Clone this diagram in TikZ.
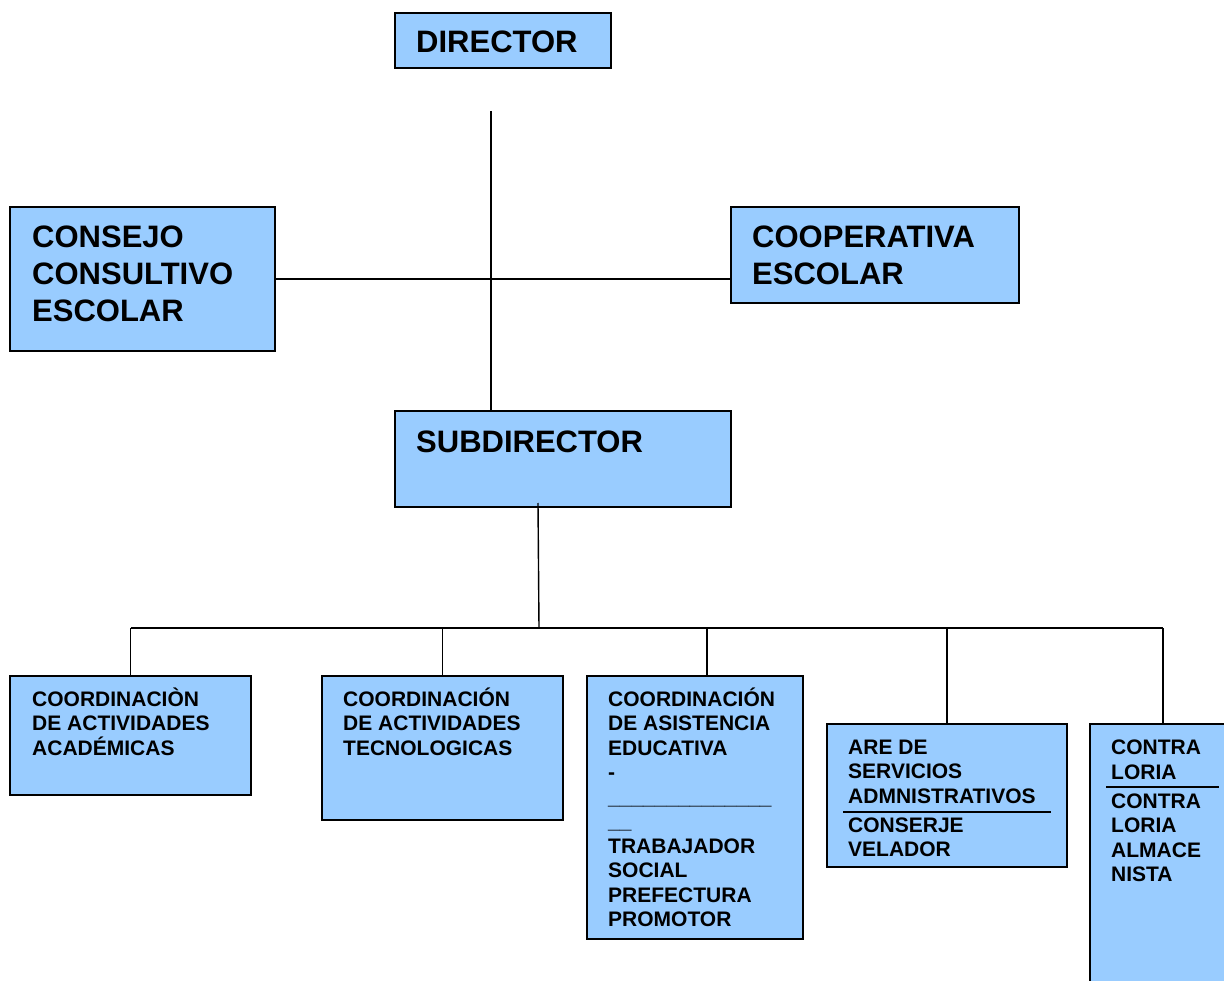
\documentclass[tikz,border=0pt]{standalone}
\usepackage{fontspec}
\setmainfont{Liberation Sans}[BoldFont={Liberation Sans Bold}]
\definecolor{boxblue}{HTML}{99CCFF}
\begin{document}
\begin{tikzpicture}[x=1pt,y=-1pt,
  orgbox/.style={draw=black, line width=1.6pt, fill=boxblue, rectangle, inner sep=0pt, outer sep=0pt, anchor=north west},
  bigtext/.style={anchor=base west, inner sep=0pt, align=left, font=\bfseries\fontsize{31}{37}\selectfont},
  smalltext/.style={anchor=base west, inner sep=0pt, align=left, font=\bfseries\fontsize{21}{24.5}\selectfont},
  conn/.style={draw=black, line width=1.4pt},
  rulel/.style={draw=black, line width=1.6pt}]
\useasboundingbox (0,0) rectangle (1224,981);
\clip (0,0) rectangle (1224,981);
% boxes
\node[orgbox, minimum width=216pt, minimum height=55pt] (dir) at (395,13) {};
\node[orgbox, minimum width=265pt, minimum height=144pt] (con) at (10,207) {};
\node[orgbox, minimum width=288pt, minimum height=96pt] (coop) at (731,207) {};
\node[orgbox, minimum width=336pt, minimum height=96pt] (sub) at (395,411) {};
\node[orgbox, minimum width=241pt, minimum height=119pt] (b1) at (10,676) {};
\node[orgbox, minimum width=241pt, minimum height=144pt] (b2) at (322,676) {};
\node[orgbox, minimum width=216pt, minimum height=263pt] (b3) at (587,676) {};
\node[orgbox, minimum width=240pt, minimum height=143pt] (b4) at (827,724) {};
\node[orgbox, minimum width=146pt, minimum height=300pt] (b5) at (1090,724) {};
% texts (base anchor = baseline of the last line)
\node[bigtext] (tdir) at (416,53) {DIRECTOR};
\node[bigtext] (tcon) at (32,322) {CONSEJO\\CONSULTIVO\\ESCOLAR};
\node[bigtext] (tcoop) at (752,285) {COOPERATIVA\\ESCOLAR};
\node[bigtext] (tsub) at (416,453) {SUBDIRECTOR};
\node[smalltext] (t1) at (32,755) {COORDINACIÒN\\DE ACTIVIDADES\\ACADÉMICAS};
\node[smalltext] (t2) at (343,755) {COORDINACIÓN\\DE ACTIVIDADES\\TECNOLOGICAS};
\node[smalltext] (t3) at (608,926.5) {COORDINACIÓN\\DE ASISTENCIA\\EDUCATIVA\\-\\\_\_\_\_\_\_\_\_\_\_\_\_\_\_\\\_\_\\TRABAJADOR\\SOCIAL\\PREFECTURA\\PROMOTOR};
\node[smalltext] (t4a) at (848,803) {ARE DE\\SERVICIOS\\ADMNISTRATIVOS};
\node[smalltext] (t4b) at (848,856.5) {CONSERJE\\VELADOR};
\node[smalltext] (t5a) at (1111,779) {CONTRA\\LORIA};
\node[smalltext] (t5b) at (1111,881.5) {CONTRA\\LORIA\\ALMACE\\NISTA};
% rules inside boxes
\coordinate (r4a) at (843,812); \coordinate (r4b) at (1051,812);
\draw[rulel] (r4a) -- (r4b);
\coordinate (r5a) at (1106,787); \coordinate (r5b) at (1219,787);
\draw[rulel] (r5a) -- (r5b);
% connectors
\coordinate (top) at (491,111);
\draw[conn] (top) -- (top |- sub.north);
\draw[conn] (con.east) -- (con.east -| coop.west);
\coordinate (sb) at (538,503);
\coordinate (bus) at (539,628);
\draw[conn] (sb) -- (bus);
\draw[conn] (b1.north |- bus) -- (b5.north |- bus);
\foreach \n in {b1,b2,b4,b5} \draw[conn] (\n.north) -- (\n.north |- bus);
\draw[conn] ([xshift=12pt]b3.north) -- ([xshift=12pt]b3.north |- bus);
\end{tikzpicture}
\end{document}
